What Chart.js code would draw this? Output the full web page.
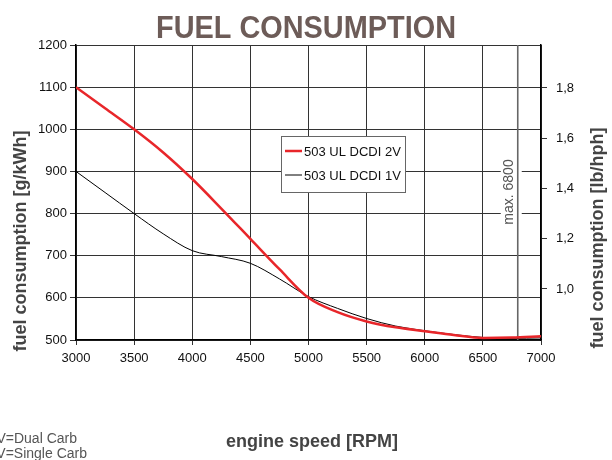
<!DOCTYPE html>
<html lang="en">
<head>
<meta charset="UTF-8" />
<title>Fuel Consumption</title>
<script src="https://cdn.jsdelivr.net/npm/chart.js"></script>
<style>
  html, body { margin: 0; padding: 0; background: #fff; }
  .wrap { position: relative; width: 612px; height: 460px; }
</style>
</head>
<body>
<div class="wrap"><canvas id="fuel" width="612" height="460"></canvas></div>
<script>
// engine speed samples (RPM)
const rpm = [3000, 3250, 3500, 3750, 4000, 4250, 4500, 4750, 5000, 5250, 5500, 5750, 6000, 6250, 6500, 6750, 7000];
// 503 UL DCDI 2V (dual carb), g/kWh
const dualCarb = [1100, 1050, 1000, 945, 882, 812, 740, 668, 600, 566, 544, 530, 521, 512, 505, 506, 509];
// 503 UL DCDI 1V (single carb), g/kWh
const singleCarb = [900, 850, 800, 752, 712, 698, 682, 645, 603, 575, 551, 533, 522, 513, 506, 504, 505];

const seriesNames = ["503 UL DCDI 2V", "503 UL DCDI 1V"];
const rpmTicks = [3000, 3500, 4000, 4500, 5000, 5500, 6000, 6500, 7000];
const gkwhTicks = [500, 600, 700, 800, 900, 1000, 1100, 1200];
const lbTicks = [1.0, 1.2, 1.4, 1.6, 1.8];
const maxRpm = 6800;

const FONT = "'Liberation Sans', Arial, Helvetica, sans-serif";
Chart.defaults.font.family = FONT;
Chart.defaults.color = "#222";

function setTicks(list) {
  return function (scale) { scale.ticks = list.map(v => ({ value: v })); };
}

function vText(ctx, txt, x, y) {
  ctx.save();
  ctx.translate(x, y);
  ctx.rotate(-Math.PI / 2);
  ctx.fillText(txt, 0, 0);
  ctx.restore();
}

const extras = {
  id: "extras",
  beforeDatasetsDraw(chart) {
    const ctx = chart.ctx, a = chart.chartArea;
    const x = chart.scales.x.getPixelForValue(maxRpm);
    ctx.save();
    // white patch behind the label, then the label, then the limit line
    ctx.fillStyle = "#fff";
    ctx.fillRect(x - 17, 157, 21, 70);
    ctx.fillStyle = "#555";
    ctx.font = "14px " + FONT;
    ctx.textAlign = "center";
    ctx.textBaseline = "middle";
    vText(ctx, "max. " + maxRpm, x - 9, 192);
    ctx.strokeStyle = "#666";
    ctx.lineWidth = 1.6;
    ctx.beginPath();
    ctx.moveTo(x, a.top);
    ctx.lineTo(x, a.bottom);
    ctx.stroke();
    ctx.restore();
  },
  afterDatasetsDraw(chart) {
    const ctx = chart.ctx;
    ctx.save();
    // legend
    ctx.fillStyle = "#fff";
    ctx.fillRect(281, 136, 124, 56);
    ctx.strokeStyle = "#666";
    ctx.lineWidth = 1;
    ctx.strokeRect(281.5, 136.5, 124, 56);
    ctx.font = "13px " + FONT;
    ctx.textBaseline = "middle";
    chart.data.datasets.forEach((ds, i) => {
      const y = 151 + i * 24;
      ctx.strokeStyle = ds.borderColor;
      ctx.lineWidth = ds.borderWidth;
      ctx.beginPath();
      ctx.moveTo(285, y);
      ctx.lineTo(302, y);
      ctx.stroke();
      ctx.fillStyle = "#111";
      ctx.fillText(ds.label, 304, y + 1);
    });

    // main title, fitted to the reference width
    ctx.textAlign = "center";
    ctx.fillStyle = "#6d5c58";
    ctx.font = "bold 31px " + FONT;
    const t = "FUEL CONSUMPTION";
    const k = 300 / ctx.measureText(t).width;
    ctx.save();
    ctx.translate(306, 29);
    ctx.scale(k, 1);
    ctx.fillText(t, 0, 0);
    ctx.restore();

    ctx.fillStyle = "#444";
    ctx.font = "bold 18px " + FONT;
    ctx.fillText("engine speed [RPM]", 312, 442);
    vText(ctx, "fuel consumption [g/kWh]", 21, 241);
    vText(ctx, "fuel consumption [lb/hph]", 598, 238);

    ctx.fillStyle = "#555";
    ctx.font = "14px " + FONT;
    ctx.textAlign = "right";
    ctx.fillText("2V=Dual Carb", 77, 439);
    ctx.fillText("1V=Single Carb", 87, 454);
    ctx.restore();
  }
};

new Chart(document.getElementById("fuel"), {
  type: "line",
  data: {
    datasets: [
      {
        label: seriesNames[0],
        data: rpm.map((r, i) => ({ x: r, y: dualCarb[i] })),
        borderColor: "#e8262a",
        borderWidth: 2.5,
        pointRadius: 0,
        cubicInterpolationMode: "monotone"
      },
      {
        label: seriesNames[1],
        data: rpm.map((r, i) => ({ x: r, y: singleCarb[i] })),
        borderColor: "#000",
        borderWidth: 1,
        pointRadius: 0,
        cubicInterpolationMode: "monotone"
      }
    ]
  },
  options: {
    responsive: false,
    animation: false,
    devicePixelRatio: 1,
    layout: { padding: { top: 45, left: 0, right: 0, bottom: 90 } },
    plugins: { legend: { display: false }, tooltip: { enabled: false } },
    scales: {
      x: {
        type: "linear",
        min: 3000,
        max: 7000,
        afterBuildTicks: setTicks(rpmTicks),
        afterFit(s) { s.height = 30; },
        grid: { color: "#333", lineWidth: 1, tickLength: 5 },
        border: { color: "#000", width: 1.5 },
        ticks: { font: { size: 13 }, color: "#111", padding: 6, maxRotation: 0, callback: v => String(v) }
      },
      y: {
        position: "left",
        min: 500,
        max: 1200,
        afterBuildTicks: setTicks(gkwhTicks),
        afterFit(s) { s.width = 76; },
        grid: { color: "#333", lineWidth: 1, tickLength: 6 },
        border: { color: "#000", width: 1.5 },
        ticks: { font: { size: 13 }, color: "#111", padding: 3, callback: v => String(v) }
      },
      y2: {
        position: "right",
        min: 0.797,
        max: 1.971,
        afterBuildTicks: setTicks(lbTicks),
        afterFit(s) { s.width = 71; },
        grid: { drawOnChartArea: false, color: "#333", tickLength: 6 },
        border: { color: "#000", width: 1.5 },
        ticks: { font: { size: 13 }, color: "#111", padding: 9, callback: v => v.toFixed(1).replace(".", ",") }
      }
    }
  },
  plugins: [extras]
});
</script>
</body>
</html>
